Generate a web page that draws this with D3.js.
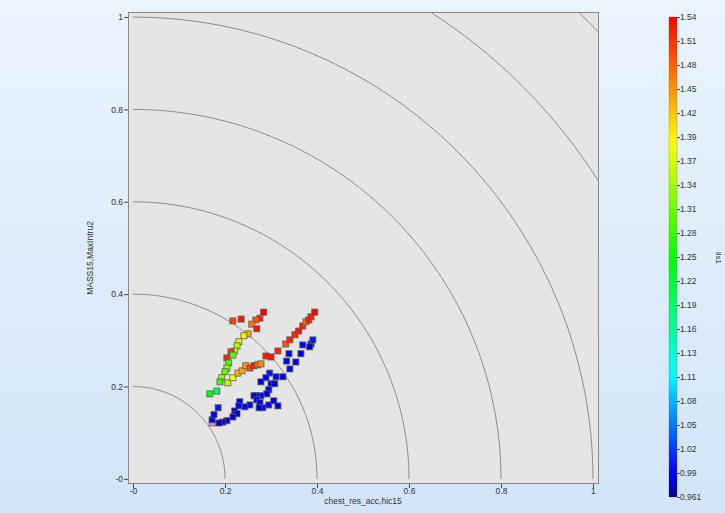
<!DOCTYPE html>
<html>
<head>
<meta charset="utf-8">
<script src="https://cdn.jsdelivr.net/npm/d3@7"></script>
<style>
  body { margin: 0; padding: 0; overflow: hidden; }
  svg { display: block; font-family: "Liberation Sans", Arial, sans-serif; }
</style>
</head>
<body>
<script>
// x, y and colour value of every marker
var xs = [0.217, 0.235, 0.284, 0.276, 0.267, 0.258, 0.269, 0.250, 0.241, 0.230, 0.226, 0.221,
    0.213, 0.217, 0.204, 0.208, 0.204, 0.200, 0.193, 0.189, 0.182, 0.167,
    0.206, 0.217, 0.228, 0.237, 0.245, 0.254, 0.263, 0.271, 0.278, 0.289, 0.300,
    0.315, 0.332, 0.341, 0.352, 0.360, 0.369, 0.376, 0.382, 0.387, 0.395,
    0.172,
    0.369, 0.387, 0.391, 0.384, 0.339, 0.365, 0.334, 0.354, 0.341, 0.326, 0.311, 0.297,
    0.289, 0.278, 0.300, 0.308, 0.295, 0.291, 0.278, 0.269, 0.263, 0.269, 0.276, 0.282,
    0.274, 0.295, 0.306, 0.315, 0.254, 0.243, 0.232, 0.230, 0.221, 0.226, 0.217, 0.204,
    0.195, 0.187, 0.172, 0.176, 0.185];
var ys = [0.342, 0.346, 0.361, 0.348, 0.344, 0.335, 0.325, 0.314, 0.310, 0.297, 0.288, 0.277,
    0.275, 0.268, 0.262, 0.251, 0.240, 0.232, 0.219, 0.210, 0.190, 0.184,
    0.208, 0.219, 0.229, 0.234, 0.245, 0.240, 0.245, 0.247, 0.249, 0.266, 0.264,
    0.277, 0.292, 0.301, 0.312, 0.320, 0.331, 0.340, 0.344, 0.351, 0.361,
    0.121,
    0.290, 0.292, 0.301, 0.286, 0.271, 0.271, 0.255, 0.253, 0.238, 0.221, 0.221, 0.229,
    0.219, 0.210, 0.206, 0.206, 0.193, 0.184, 0.180, 0.180, 0.180, 0.171, 0.165, 0.154,
    0.154, 0.160, 0.169, 0.158, 0.160, 0.156, 0.167, 0.158, 0.147, 0.141, 0.134, 0.126,
    0.123, 0.121, 0.128, 0.139, 0.154];
var vals = [1.50, 1.53, 1.54, 1.52, 1.49, 1.47, 1.53, 1.44, 1.40, 1.37, 1.35, 1.36,
    1.51, 1.30, 1.52, 1.29, 1.33, 1.30, 1.34, 1.28, 1.21, 1.24,
    1.36, 1.39, 1.43, 1.44, 1.45, 1.50, 1.52, 1.48, 1.46, 1.53, 1.53,
    1.52, 1.49, 1.52, 1.52, 1.53, 1.52, 1.47, 1.52, 1.52, 1.54,
    0.94,
    0.99, 0.98, 1.00, 0.97, 0.99, 0.98, 0.99, 0.98, 0.99, 0.98, 0.99, 1.00,
    0.99, 0.98, 0.99, 0.98, 0.99, 0.98, 0.99, 0.98, 0.97, 0.99, 0.98, 0.99,
    0.98, 0.99, 0.98, 0.99, 0.98, 0.99, 0.98, 0.99, 0.98, 0.97, 0.98, 0.97,
    0.98, 0.97, 0.98, 0.99, 1.00];

var xTicks = [0, 0.2, 0.4, 0.6, 0.8, 1];
var xTickLabels = ["-0", "0.2", "0.4", "0.6", "0.8", "1"];
var yTicks = [0, 0.2, 0.4, 0.6, 0.8, 1];
var yTickLabels = ["-0", "0.2", "0.4", "0.6", "0.8", "1"];
var radii = [0.2, 0.4, 0.6, 0.8, 1.0, 1.2, 1.4];
var cbLabels = ["0.961", "0.99", "1.02", "1.05", "1.08", "1.11", "1.13", "1.16", "1.19", "1.22",
    "1.25", "1.28", "1.31", "1.34", "1.37", "1.39", "1.42", "1.45", "1.48", "1.51", "1.54"];
var cbMin = 0.961, cbMax = 1.54;

var W = 725, H = 513;

var svg = d3.select("body").append("svg")
    .attr("width", W)
    .attr("height", H);

var defs = svg.append("defs");
var bg = defs.append("linearGradient").attr("id", "bg")
    .attr("x1", 0).attr("y1", 0).attr("x2", 0).attr("y2", 1);
bg.append("stop").attr("offset", "0%").attr("stop-color", "#eaf4fd");
bg.append("stop").attr("offset", "100%").attr("stop-color", "#d2e5f8");

svg.append("rect")
    .attr("width", W).attr("height", H)
    .attr("fill", "url(#bg)");

var x = d3.scaleLinear().domain([-0.011, 1.011]).range([128, 598]);
var y = d3.scaleLinear().domain([-0.009, 1.011]).range([483, 12]);

// colour scale: blue - cyan - green - yellow - red, pink below range
var color = d3.scaleLinear()
    .domain([0.94, 0.9609, 0.961, 0.99, 1.11, 1.25, 1.39, 1.54])
    .range(["#e08ce0", "#e08ce0", "#00009a", "#0000ff", "#00ffff", "#00ff00", "#ffff00", "#ff0000"])
    .clamp(true);

defs.append("clipPath").attr("id", "plotclip")
    .append("rect")
    .attr("x", 128).attr("y", 12)
    .attr("width", 470).attr("height", 471);

svg.append("rect")
    .attr("x", 128.5).attr("y", 12.5)
    .attr("width", 470).attr("height", 471)
    .attr("fill", "#e5e5e5")
    .attr("stroke", "#8a8a8a");

var plot = svg.append("g").attr("clip-path", "url(#plotclip)");

plot.selectAll("path.arc")
    .data(radii)
    .enter().append("path")
    .attr("class", "arc")
    .attr("fill", "none")
    .attr("stroke", "#8c8c8c")
    .attr("stroke-width", 1)
    .attr("d", function (r) {
        var pts = d3.range(0, 91).map(function (a) {
            var t = a * Math.PI / 180;
            return [x(r * Math.cos(t)), y(r * Math.sin(t))];
        });
        return d3.line()(pts);
    });

var pts = xs.map(function (d, i) {
    return { x: xs[i], y: ys[i], v: vals[i] };
});

var s = 6;
plot.selectAll("rect.pt")
    .data(pts)
    .enter().append("rect")
    .attr("class", "pt")
    .attr("x", function (d) { return x(d.x) - s / 2; })
    .attr("y", function (d) { return y(d.y) - s / 2; })
    .attr("width", s)
    .attr("height", s)
    .attr("fill", function (d) { return color(d.v); })
    .attr("stroke", "#5a5a5a")
    .attr("stroke-opacity", 0.8)
    .attr("stroke-width", 1);

// axes
var xAxis = d3.axisBottom(x)
    .tickValues(xTicks)
    .tickSize(4)
    .tickFormat(function (d, i) { return xTickLabels[i]; });
var gx = svg.append("g")
    .attr("transform", "translate(0,484)")
    .call(xAxis);

var yAxis = d3.axisLeft(y)
    .tickValues(yTicks)
    .tickSize(4)
    .tickFormat(function (d, i) { return yTickLabels[i]; });
var gy = svg.append("g")
    .attr("transform", "translate(128,0)")
    .call(yAxis);

[gx, gy].forEach(function (g) {
    g.select(".domain").remove();
    g.selectAll(".tick line").attr("stroke", "#444");
    g.selectAll(".tick text")
        .attr("fill", "#333")
        .style("font-size", "8.5px")
        .style("font-family", "Liberation Sans, Arial, sans-serif");
});
gx.selectAll(".tick text").attr("dy", "0.55em").attr("y", 5);
gy.selectAll(".tick text").attr("x", -5);

svg.append("text")
    .attr("x", 363).attr("y", 504)
    .attr("text-anchor", "middle")
    .attr("fill", "#333")
    .style("font-size", "8.5px")
    .text("chest_res_acc,hic15");

svg.append("text")
    .attr("transform", "translate(93,258) rotate(-90)")
    .attr("text-anchor", "middle")
    .attr("fill", "#333")
    .style("font-size", "8.5px")
    .text("MASS15,MaxIntru2");

// colour bar
var cbY = d3.scaleLinear().domain([cbMin, cbMax]).range([497, 17]);
var cg = defs.append("linearGradient").attr("id", "cbgrad")
    .attr("x1", 0).attr("y1", 1).attr("x2", 0).attr("y2", 0);
d3.range(0, 41).forEach(function (i) {
    var v = cbMin + (cbMax - cbMin) * i / 40;
    cg.append("stop")
        .attr("offset", (i / 40 * 100) + "%")
        .attr("stop-color", color(v));
});
svg.append("rect")
    .attr("x", 669).attr("y", 17)
    .attr("width", 8).attr("height", 480)
    .attr("fill", "url(#cbgrad)")
    .attr("stroke", "#7a1010")
    .attr("stroke-opacity", 0.4)
    .attr("stroke-width", 0.5);

var cbTicks = cbLabels.map(function (d, i) {
    return cbMin + (cbMax - cbMin) * i / (cbLabels.length - 1);
});
var cbAxis = d3.axisRight(cbY)
    .tickValues(cbTicks)
    .tickSize(3)
    .tickFormat(function (d, i) { return cbLabels[i]; });
var gc = svg.append("g")
    .attr("transform", "translate(677,0)")
    .call(cbAxis);
gc.select(".domain").remove();
gc.selectAll(".tick line").attr("stroke", "#444");
gc.selectAll(".tick text")
    .attr("x", 3)
    .attr("fill", "#333")
    .style("font-size", "8.5px")
    .style("font-family", "Liberation Sans, Arial, sans-serif");

svg.append("text")
    .attr("transform", "translate(716,258) rotate(90)")
    .attr("text-anchor", "middle")
    .attr("fill", "#333")
    .style("font-size", "8px")
    .text("lls1");
</script>
</body>
</html>
